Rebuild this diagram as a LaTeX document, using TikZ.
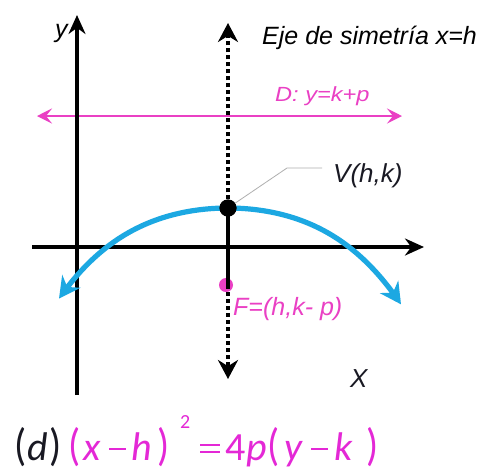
\documentclass[tikz,border=0pt]{standalone}
\usepackage{fontspec}
\setmainfont{Liberation Sans}
\newfontfamily\eqfont{Carlito}
\usetikzlibrary{arrows.meta}
\definecolor{pinkc}{RGB}{234,64,196}
\definecolor{magc}{RGB}{228,40,214}
\definecolor{cyanc}{RGB}{28,168,226}
\definecolor{leadc}{RGB}{175,175,175}
\definecolor{dkc}{RGB}{25,25,35}
\newcommand\eqminus{\rule[10.5pt]{17pt}{1.6pt}}
\newcommand\eqequal{\rule[7pt]{20pt}{1.6pt}\hspace{-20pt}\rule[14.5pt]{20pt}{1.6pt}}
\newcommand\eqparen[1]{\scalebox{1}[1.13]{#1}}
\tikzset{
  axis/.style={line width=3.2pt, black, -{Stealth[length=19pt,width=17pt]}},
  symaxis/.style={line width=3.3pt, black, dash pattern=on 4pt off 3pt, -{Stealth[length=19pt,width=20pt]}},
  solidseg/.style={line width=3.3pt, black},
  directrix/.style={line width=2.6pt, pinkc, {Stealth[length=15pt,width=15pt,inset=6pt]}-{Stealth[length=15pt,width=15pt,inset=6pt]}},
  parab/.style={line width=5.2pt, cyanc, {Stealth[length=21pt,width=22pt]}-{Stealth[length=21pt,width=22pt]}},
  vdot/.style={circle, fill=black, inner sep=0pt, minimum size=17pt},
  fdot/.style={circle, fill=pinkc, inner sep=0pt, minimum size=14pt},
  leader/.style={line width=0.8pt, leadc},
  lbl/.style={inner sep=0pt, anchor=base west, font=\itshape\fontsize{25}{28}\selectfont},
  eqp/.style={inner sep=0pt, anchor=base west, font=\eqfont\fontsize{40}{42}\selectfont},
}
\begin{document}
\begin{tikzpicture}[x=1pt, y=-1pt]
\useasboundingbox[fill=white] (0,0) rectangle (482,475);
% coordinates
\coordinate (xl) at (32,247);
\coordinate (xr) at (424,247);
\coordinate (yb) at (77,395);
\coordinate (yt) at (77,15);
\coordinate (dl) at (37,116);
\coordinate (dr) at (402,116);
\coordinate (stop) at (228,23);
\coordinate (sbot) at (228,379);
\coordinate (fc) at (228,285);
\coordinate (lead1) at (287,168);
\coordinate (lead2) at (322,168);
% directrix
\draw[directrix] (dl) -- (dr);
% axes
\draw[axis] (xl) -- (xr);
\draw[axis] (yb) -- (yt);
% parabola
\draw[parab] plot[domain=-1.69:1.73, samples=80, smooth] ({228+100*\x}, {208+21.3*\x*\x+3.64*\x*\x*\x*\x});
% points
\node[fdot] (F) at (226,285) {};
\node[vdot] (V) at (228,208) {};
% axis of symmetry
\draw[symaxis] (V) -- (stop);
\draw[symaxis] (fc) -- (sbot);
\draw[solidseg] (V.center) -- (fc);
\node[vdot] at (V) {};
% leader
\draw[leader] (V) -- (lead1) -- (lead2);
% labels
\node[lbl] (ylab) at (55,37) {y};
\node[lbl] (eje) at (262,44) {Eje de simetría x=h};
\node[lbl, pinkc, font=\itshape\fontsize{20.5}{22}\selectfont] (dlab) at (275,101) {\scalebox{1.15}[1]{D: y=k+p}};
\node[lbl, dkc, font=\itshape\fontsize{26}{28}\selectfont] (vlab) at (333,182) {V(h,k)};
\node[lbl, pinkc] (flab) at (233,315) {F=(h,k- p)};
\node[lbl, dkc, font=\itshape\fontsize{26}{28}\selectfont] (xlab) at (350,387) {X};
% equation
\node[eqp, dkc] (e1) at (14,460) {\eqparen{(}};
\node[eqp, dkc] (e2) at (27,460) {\textit{d}};
\node[eqp, dkc] (e3) at (49,460) {\eqparen{)}};
\node[eqp, magc] (e4) at (68,460) {\eqparen{(}};
\node[eqp, magc] (e5) at (83,460) {\textit{x}};
\node[eqp, magc] (e6) at (109,460) {\eqminus};
\node[eqp, magc] (e7) at (131,460) {\textit{h}};
\node[eqp, magc] (e8) at (157,460) {\eqparen{)}};
\node[eqp, magc, font=\eqfont\fontsize{20}{22}\selectfont] (e9) at (180,428) {2};
\node[eqp, magc] (e10) at (200,460) {\eqequal};
\node[eqp, magc] (e11) at (225,460) {4};
\node[eqp, magc] (e12) at (246,460) {\textit{p}};
\node[eqp, magc] (e13) at (267,460) {\eqparen{(}};
\node[eqp, magc] (e14) at (284,460) {\textit{y}};
\node[eqp, magc] (e15) at (311,460) {\eqminus};
\node[eqp, magc] (e16) at (334,460) {\textit{k}};
\node[eqp, magc] (e17) at (366,460) {\eqparen{)}};
\end{tikzpicture}
\end{document}
